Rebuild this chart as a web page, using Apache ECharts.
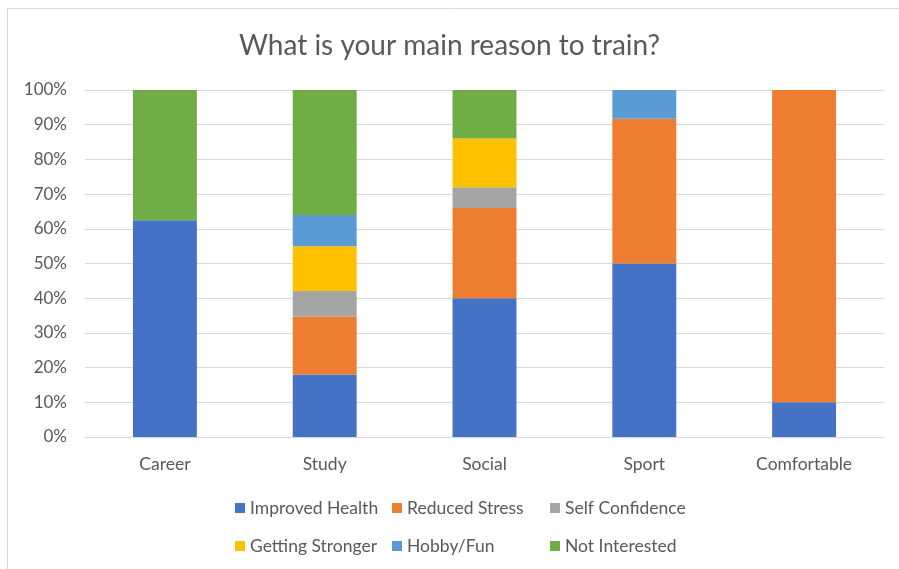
<!DOCTYPE html>
<html>
<head>
<meta charset="UTF-8">
<title>What is your main reason to train?</title>
<script src="https://cdn.jsdelivr.net/npm/echarts@6/dist/echarts.min.js"></script>
<style type="text/css">
html, body {
	width: 100%;
	height: 100%;
	padding: 0px;
	margin: 0px;
	background: #fff;
}
</style>
</head>
<body>
	<div id="chart" style="width: 899px; height: 569px;"></div>

	<script type="text/javascript">
        // categories and series (percent of answers)
        var categories = ['Career', 'Study', 'Social', 'Sport', 'Comfortable'];
        var improvedHealth = [62.5, 18, 40, 50, 10];
        var reducedStress = [0, 16.7, 26, 41.7, 90];
        var selfConfidence = [0, 7.4, 6, 0, 0];
        var gettingStronger = [0, 12.9, 14, 0, 0];
        var hobbyFun = [0, 9, 0, 8.3, 0];
        var notInterested = [37.5, 36, 14, 0, 0];

        var seriesNames = ['Improved Health', 'Reduced Stress', 'Self Confidence',
                           'Getting Stronger', 'Hobby/Fun', 'Not Interested'];
        var seriesData = [improvedHealth, reducedStress, selfConfidence,
                          gettingStronger, hobbyFun, notInterested];
        var colors = ['#4472c4', '#ed7d31', '#a5a5a5', '#ffc000', '#5b9bd5', '#70ad47'];

        var font = 'Lato, "Open Sans", sans-serif';
        var textGray = '#595959';

        var myChart = echarts.init(document.getElementById('chart'));

        var series = seriesNames.map(function (name, i) {
            return {
                name: name,
                type: 'bar',
                stack: 'total',
                barWidth: '40%',
                itemStyle: { color: colors[i] },
                data: seriesData[i]
            };
        });

        // legend laid out in three columns of two rows
        function legendCol(left, names) {
            return {
                orient: 'vertical',
                left: left,
                top: 493,
                itemWidth: 10,
                itemHeight: 10,
                itemGap: 18,
                icon: 'rect',
                data: names,
                selectedMode: false,
                textStyle: { color: textGray, fontSize: 17.5, fontFamily: font, lineHeight: 20 }
            };
        }

        var option = {
            animation: false,
            color: colors,
            title: {
                text: 'What is your main reason to train?',
                left: 'center',
                top: 27,
                textStyle: { color: textGray, fontSize: 28, fontWeight: 'normal', fontFamily: font }
            },
            legend: [
                legendCol(230, ['Improved Health', 'Getting Stronger']),
                legendCol(387, ['Reduced Stress', 'Hobby/Fun']),
                legendCol(545, ['Self Confidence', 'Not Interested'])
            ],
            grid: { left: 85, right: 15, top: 90, bottom: 132, containLabel: false },
            xAxis: {
                type: 'category',
                data: categories,
                axisTick: { show: false },
                axisLine: { lineStyle: { color: '#d9d9d9', width: 1 } },
                axisLabel: { color: textGray, fontSize: 17.5, fontFamily: font, margin: 18 }
            },
            yAxis: {
                type: 'value',
                min: 0,
                max: 100,
                interval: 10,
                axisLine: { show: false },
                axisTick: { show: false },
                splitLine: { lineStyle: { color: '#d9d9d9', width: 1 } },
                axisLabel: { color: textGray, fontSize: 17, fontFamily: font, margin: 18,
                             formatter: '{value}%' }
            },
            graphic: [
                { type: 'line', shape: { x1: 7.5, y1: 8.5, x2: 7.5, y2: 569 },
                  style: { stroke: '#d9d9d9', lineWidth: 1 } },
                { type: 'line', shape: { x1: 7.5, y1: 8.5, x2: 899, y2: 8.5 },
                  style: { stroke: '#d9d9d9', lineWidth: 1 } }
            ],
            series: series
        };

        myChart.setOption(option);
	</script>
</body>
</html>
